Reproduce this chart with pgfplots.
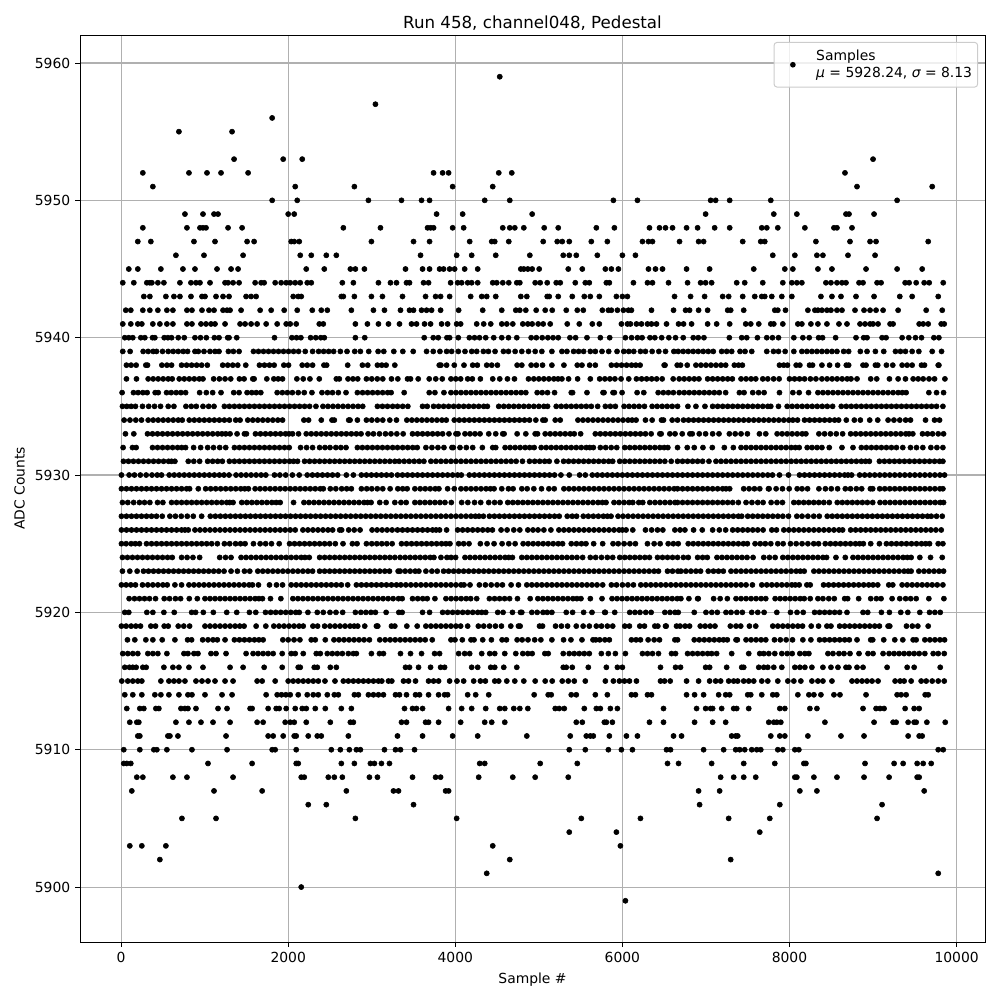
\documentclass[border=0pt]{standalone}
\usepackage{fontspec}
\setmainfont{DejaVu Sans}
\usepackage{pgfplots}
\pgfplotsset{compat=1.18}
\definecolor{gridc}{HTML}{B0B0B0}
\definecolor{legc}{HTML}{CCCCCC}
\pgfplotsset{dots/.style={only marks,mark=*,mark size=1.85pt,color=black,mark options={draw=black,fill=black}}}
\newcommand\R[2]{\gdef\pts{}\foreach\x in {#2}{\xdef\pts{\pts(\x,#1)}}\edef\tmp{\noexpand\addplot[dots,forget plot] coordinates{\pts};}\tmp}
\begin{document}
\begin{tikzpicture}
\useasboundingbox (0,0) rectangle (720pt,720pt);
\begin{axis}[
 at={(57.6pt,41.76pt)},anchor=south west,scale only axis,width=651.6pt,height=653.04pt,
 xmin=-492,xmax=10340,ymin=5896,ymax=5962.04,
 xtick={0,2000,...,10000},ytick={5900,5910,...,5960},
 scaled ticks=false,
 /pgf/number format/assume math mode=true,
 /pgf/number format/1000 sep={},
 grid=major,grid style={gridc,line width=0.8pt},
 axis line style={line width=0.6pt},
 tick style={black,line width=0.6pt},tick align=outside,major tick length=3.5pt,
 xtick pos=lower,ytick pos=left,
 tick label style={font=\fontsize{10}{12}\selectfont},
 label style={font=\fontsize{10}{12}\selectfont},
 xlabel={Sample \#},ylabel={ADC Counts},
 xlabel style={yshift=-0.5pt},ylabel style={yshift=0.3pt},
 title={Run 458, channel048, Pedestal},
 title style={font=\fontsize{12}{14}\selectfont,yshift=-6.3pt},
 legend style={at={(0.9923,0.9923)},anchor=north east,fill=white,fill opacity=0.8,text opacity=1,draw opacity=1,draw=legc,line width=0.7pt,rounded corners=2pt,font=\fontsize{10}{12}\selectfont,cells={align=left},inner xsep=2pt,inner ysep=3.5pt},
 legend image code/.code={\fill[black,opacity=1,draw=none] (11.5pt,0pt) circle (2.05pt);\path[draw=none] (0pt,0pt) -- (26.3pt,0pt);},
]
\addplot[dots] coordinates {(4532,5959)};
\addlegendentry{Samples\\{\itshape μ} = 5928.24, {\itshape σ} = 8.13}
\R{5957}{3044}
\R{5956}{1808}
\R{5955}{692,1328}
\R{5953}{1352,1940,2168,9000}
\R{5952}{260,812,1028,1196,1520,3740,3848,3920,4520,4676,8664}
\R{5951}{380,2084,2792,3968,4448,8808,9708}
\R{5950}{1808,2108,2960,3356,3596,3692,4352,4652,5892,6180,7056,7116,7284,7776,9288}
\R{5949}{764,980,1112,1160,2000,2072,3776,4088,4920,6996,7812,8088,8676,8712,9012}
\R{5948}{260,788,944,980,1016,1280,1448,2660,3104,3668,3704,3740,3968,4100,4568,4652,4712,4820,5064,5232,5688,5904,6324,6444,6516,6600,6768,6900,7104,7284,7668,7728,7860,8184,8532,8568,8748}
\R{5947}{200,356,872,1124,1508,1592,2036,2072,2132,2996,3500,3692,4172,4436,4472,4640,5052,5220,5280,5364,5628,5820,6240,6312,6360,6684,6912,6972,7440,7656,7704,8316,8724,8964,9036,9660}
\R{5946}{656,992,1460,2144,2276,2456,2576,3584,4016,4196,4484,4892,5292,5364,5448,5700,6000,6156,7800,8064,8328,8400,8700,9024}
\R{5945}{92,200,476,740,884,1148,1316,1400,2216,2432,2744,2804,2912,3404,3608,3692,3812,3860,3932,3992,4112,4268,4784,4820,4868,4920,5004,5352,5520,5796,5868,5952,6312,6396,6480,6768,7044,7572,7944,8040,8340,8508,8916,9288,9588}
\R{5944}{20,152,308,344,368,440,512,704,836,896,944,1064,1244,1280,1340,1412,1604,1676,1712,1844,1916,1976,2024,2084,2144,2228,2276,2648,2780,3080,3224,3296,3416,3452,3620,3680,3944,4028,4076,4148,4196,4268,4448,4496,4568,4640,4736,4772,4956,5016,5100,5208,5256,5436,5556,5604,5808,5844,6132,6300,6360,6552,6780,6936,6996,7068,7368,7464,7680,7920,8028,8088,8148,8436,8496,8568,8628,8676,8832,8880,9048,9096,9384,9432,9516,9612,9672,9840}
\R{5943}{272,344,536,632,704,836,968,1004,1136,1220,1292,1496,1556,1616,2060,2120,2156,2636,2660,2792,2996,3128,3368,3644,3764,3824,3932,4184,4316,4376,4484,4784,4856,5100,5124,5232,5400,5544,5616,5724,5928,6000,6060,6624,6816,6984,7200,7272,7440,7584,7668,7704,7788,7908,8028,8376,8508,8616,8796,9012,9320,9468,9780}
\R{5942}{56,116,260,344,440,548,620,788,848,968,1052,1112,1220,1268,1304,1436,1664,1796,1952,2108,2288,2396,2468,2756,3020,3152,3344,3452,3500,3596,3656,3716,3824,4040,4328,4556,4724,4772,4844,4968,5076,5160,5328,5460,5532,5760,5832,5868,5940,6012,6072,6108,6348,6612,6756,6804,6912,7020,7260,7296,7452,7824,7860,7952,8220,8304,8340,8388,8448,8496,8568,8628,8784,8892,8964,9036,9120,9300,9636,9828}
\R{5941}{20,116,200,248,380,464,548,620,788,848,956,1016,1076,1124,1244,1424,1484,1556,1628,1736,1868,1976,2024,2096,2372,2420,2804,2948,3080,3200,3332,3476,3536,3632,3704,3836,3908,4016,4064,4256,4340,4424,4556,4616,4688,4808,4868,4920,4992,5052,5136,5340,5484,5640,5724,5988,6060,6096,6168,6228,6300,6348,6408,6528,6672,6732,6828,7020,7128,7284,7476,7536,7632,7776,7812,7920,8100,8148,8256,8340,8448,8592,8688,8844,8904,8964,9000,9060,9204,9240,9552,9600,9660,9816,9852}
\R{5940}{44,92,140,236,284,376,404,516,560,604,684,756,884,950,1020,1116,1172,1276,1292,1384,1836,2044,2100,2152,2268,2330,2390,2432,2804,2916,3628,3736,3796,3900,3932,4036,4168,4230,4290,4364,4460,4556,4636,4736,4908,4970,5040,5108,5170,5232,5372,5440,5576,5736,5848,6036,6110,6180,6236,6330,6388,6470,6556,6636,6728,6848,6908,6976,7280,7428,7488,7616,7728,7796,7868,8052,8160,8236,8348,8396,8552,8796,8888,8928,9108,9156,9348,9428,9508,9580,9728,9788}
\R{5939}{20,108,264,324,384,424,496,564,624,684,744,796,884,924,992,1064,1124,1172,1284,1344,1412,1584,1644,1704,1764,1824,1884,1944,2004,2064,2124,2204,2292,2364,2424,2484,2544,2624,2704,2796,2864,2964,3076,3144,3264,3372,3496,3656,3736,3816,3896,3956,4036,4116,4196,4256,4336,4396,4476,4576,4636,4716,4796,4876,4956,5036,5156,5276,5336,5416,5476,5536,5616,5676,5756,5836,5936,6016,6076,6136,6216,6276,6356,6436,6516,6616,6668,6728,6788,6848,6908,6968,7028,7088,7188,7248,7308,7408,7468,7548,7728,7808,7868,7948,8052,8148,8208,8268,8328,8388,8448,8508,8568,8648,8708,8848,8928,9028,9128,9268,9328,9388,9468,9548,9708,9820}
\R{5938}{64,120,180,296,316,488,548,604,724,784,844,904,964,1032,1216,1276,1336,1396,1492,1656,1716,1776,1832,1948,2004,2168,2228,2292,2428,2460,2712,2888,2952,3068,3120,3172,3276,3808,3828,3896,3988,4104,4208,4264,4376,4436,4504,4740,4796,4908,4970,5044,5156,5300,5460,5516,5608,5676,5868,5930,5990,6050,6110,6160,6212,6500,6510,6656,6696,6776,6880,6940,7000,7060,7120,7180,7236,7340,7390,7436,7880,7930,7976,8080,8124,8240,8276,8388,8480,8576,8680,8708,8880,8916,9028,9056,9160,9236,9348,9408,9468,9580,9616,9780,9788}
\R{5937}{64,184,324,384,444,504,564,612,696,756,816,876,936,980,1108,1176,1244,1312,1416,1472,1576,1592,1744,1828,1880,1932,2104,2180,2260,2372,2576,2612,2716,2775,2832,2936,3000,3066,3132,3236,3312,3428,3464,3556,3688,3766,3844,3948,4006,4064,4148,4204,4300,4448,4532,4624,4708,4876,4940,5000,5060,5120,5180,5230,5276,5356,5464,5616,5728,5790,5850,5910,5984,6076,6168,6230,6290,6350,6410,6476,6608,6680,6740,6800,6860,6916,7020,7080,7140,7200,7260,7316,7420,7480,7540,7596,7680,7740,7810,7876,8000,8060,8120,8180,8250,8316,8388,8450,8510,8570,8630,8690,8736,8808,8972,9044,9196,9300,9388,9480,9540,9600,9670,9736,9860}
\R{5936}{12,148,204,260,312,408,444,544,600,660,716,772,940,1020,1096,1196,1348,1412,1508,1564,1618,1672,1868,1930,1990,2050,2120,2192,2284,2404,2470,2530,2600,2692,2828,2890,2950,3010,3070,3130,3190,3232,3388,3688,3756,3864,3948,4008,4068,4128,4188,4248,4308,4368,4428,4488,4548,4608,4668,4728,4788,4844,4980,5040,5104,5188,5388,5404,5576,5768,5780,5888,5904,5996,6176,6256,6428,6490,6550,6610,6680,6740,6800,6860,6920,6980,7040,7100,7160,7236,7400,7456,7560,7630,7696,7880,8040,8116,8228,8340,8400,8460,8520,8580,8640,8700,8760,8820,8880,8940,9000,9060,9120,9180,9240,9300,9350,9396,9668,9760,9844}
\R{5935}{16,68,120,172,256,330,400,472,564,632,776,840,900,980,1048,1112,1236,1296,1356,1416,1476,1536,1596,1656,1716,1776,1836,1896,1956,2016,2076,2136,2196,2256,2332,2416,2476,2536,2596,2656,2716,2776,2836,2892,3068,3128,3188,3250,3308,3370,3432,3608,3664,3740,3800,3860,3920,3980,4040,4100,4160,4220,4280,4340,4384,4520,4580,4640,4700,4760,4820,4880,4940,5000,5060,5104,5208,5268,5328,5388,5448,5508,5568,5628,5704,5796,5856,5916,6020,6080,6140,6200,6264,6356,6416,6476,6536,6596,6660,6784,6880,6988,7080,7140,7200,7260,7320,7380,7440,7500,7560,7620,7680,7740,7776,7868,7972,8032,8092,8152,8212,8272,8332,8392,8452,8516,8620,8680,8740,8800,8860,8920,8980,9040,9100,9160,9220,9280,9340,9400,9460,9520,9580,9640,9700,9760,9836}
\R{5934}{36,106,176,244,324,384,444,504,564,624,684,732,816,876,936,996,1056,1116,1176,1236,1296,1372,1424,1516,1576,1636,1696,1756,1816,1876,1932,2188,2244,2396,2524,2552,2724,2740,2828,2936,3000,3066,3132,3216,3296,3420,3480,3540,3600,3660,3720,3780,3840,3892,3988,4048,4108,4168,4228,4288,4348,4408,4468,4528,4588,4648,4708,4768,4828,4888,4964,5048,5076,5196,5256,5468,5528,5588,5648,5708,5768,5828,5888,5948,6008,6068,6116,6164,6276,6356,6468,6492,6596,6660,6732,6792,6852,6912,6972,7032,7092,7152,7212,7272,7332,7392,7452,7512,7572,7632,7692,7752,7812,7872,7932,7992,8040,8096,8180,8240,8300,8360,8420,8480,8540,8588,8680,8776,8848,8960,9056,9180,9250,9320,9390,9448,9628,9736,9796}
\R{5933}{52,152,316,376,436,496,556,616,676,736,796,856,916,976,1036,1096,1156,1206,1252,1304,1388,1476,1500,1608,1668,1728,1788,1848,1908,1968,2010,2052,2124,2216,2276,2336,2396,2456,2516,2576,2636,2696,2756,2816,2872,2956,3020,3092,3164,3230,3300,3376,3488,3548,3608,3668,3728,3788,3848,3924,4008,4032,4116,4176,4236,4296,4400,4484,4568,4584,4740,4844,4956,4984,5076,5136,5196,5256,5316,5376,5424,5500,5676,5736,5796,5856,5916,5976,6036,6096,6156,6216,6276,6344,6448,6464,6568,6630,6716,6808,6836,6920,6996,7080,7156,7280,7350,7420,7496,7640,7716,7852,7912,7972,8032,8092,8152,8196,8352,8420,8490,8560,8636,8732,8792,8852,8912,8972,9032,9092,9152,9212,9272,9332,9392,9430,9476,9592,9652,9712,9780,9844}
\R{5932}{24,136,180,376,436,496,556,616,676,726,772,868,952,1036,1106,1180,1252,1356,1416,1476,1536,1596,1656,1716,1776,1836,1896,1956,2012,2148,2220,2292,2376,2440,2500,2570,2630,2692,2828,2888,2948,3008,3068,3128,3188,3250,3308,3370,3430,3490,3544,3648,3720,3792,3864,3960,3976,4056,4132,4208,4324,4448,4484,4596,4656,4716,4776,4836,4890,4944,5028,5088,5148,5208,5268,5328,5388,5448,5508,5568,5610,5652,5736,5800,5866,5932,6028,6088,6148,6208,6268,6328,6388,6448,6500,6544,6660,6776,6860,6964,7076,7220,7328,7420,7480,7540,7600,7660,7720,7780,7840,7900,7960,8020,8070,8116,8212,8270,8330,8388,8476,8628,8760,8860,8920,8980,9040,9100,9160,9220,9280,9356,9448,9520,9596,9692,9764,9836}
\R{5931}{28,88,148,208,268,328,388,448,508,568,604,644,804,870,940,1036,1096,1156,1212,1296,1356,1416,1476,1536,1596,1656,1716,1776,1836,1896,1956,2016,2064,2112,2196,2256,2316,2376,2436,2496,2556,2616,2676,2736,2796,2856,2916,2976,3036,3096,3156,3216,3276,3328,3388,3448,3508,3568,3624,3708,3768,3828,3888,3948,4008,4068,4128,4188,4248,4308,4368,4428,4488,4548,4608,4668,4728,4804,4888,4950,5010,5070,5124,5216,5296,5356,5416,5476,5536,5596,5656,5716,5776,5836,5884,5968,6028,6088,6148,6208,6268,6328,6388,6448,6508,6584,6660,6720,6780,6840,6900,6960,7036,7120,7180,7240,7300,7360,7420,7480,7540,7600,7660,7720,7780,7840,7900,7960,8020,8080,8140,8200,8260,8320,8380,8440,8500,8560,8620,8680,8740,8800,8860,8910,8956,9076,9136,9196,9256,9316,9376,9436,9496,9556,9616,9676,9736,9796,9836}
\R{5930}{4,96,160,230,300,370,432,484,576,636,696,756,816,876,936,996,1056,1116,1176,1232,1292,1376,1436,1496,1556,1616,1676,1732,1836,1900,1970,2050,2132,2228,2290,2350,2410,2470,2530,2592,2696,2780,2876,2936,2996,3056,3116,3176,3236,3308,3368,3428,3488,3548,3608,3668,3728,3788,3848,3908,3968,4028,4072,4168,4228,4288,4348,4408,4468,4528,4588,4648,4708,4768,4828,4888,4948,5008,5068,5128,5188,5264,5364,5488,5556,5640,5700,5760,5820,5880,5940,6000,6060,6120,6180,6240,6300,6360,6420,6480,6540,6600,6660,6720,6780,6840,6900,6960,7020,7080,7140,7200,7260,7320,7380,7440,7500,7560,7620,7680,7740,7796,7880,7988,8120,8180,8240,8300,8360,8420,8480,8540,8600,8660,8700,8744,8840,8900,8960,9020,9080,9140,9200,9260,9320,9380,9440,9500,9560,9620,9680,9740,9800,9856}
\R{5929}{4,64,124,184,244,304,364,424,484,544,604,664,724,784,820,924,1012,1072,1132,1192,1252,1312,1372,1432,1480,1524,1604,1664,1724,1784,1844,1904,1964,2024,2084,2144,2204,2264,2324,2384,2420,2504,2570,2640,2700,2756,2876,2940,3000,3066,3132,3220,3312,3370,3424,3516,3580,3640,3700,3760,3804,3908,3988,4068,4128,4188,4248,4308,4368,4420,4464,4556,4636,4692,4796,4860,4940,5032,5120,5184,5300,5360,5420,5480,5540,5600,5660,5720,5780,5840,5900,5960,6020,6080,6140,6200,6260,6320,6380,6440,6500,6560,6620,6660,6720,6780,6840,6900,6960,7020,7080,7140,7200,7240,7284,7452,7516,7580,7644,7748,7756,7840,7916,7996,8092,8150,8216,8352,8430,8500,8576,8668,8730,8800,8864,8968,8996,9080,9140,9200,9260,9320,9380,9440,9500,9560,9620,9680,9740,9800,9836}
\R{5928}{16,80,150,220,280,344,436,500,604,664,724,784,844,904,964,1024,1084,1144,1204,1264,1300,1340,1444,1504,1564,1624,1684,1744,1804,1856,1904,2064,2188,2248,2308,2368,2428,2488,2548,2608,2668,2728,2788,2848,2908,2950,2992,3096,3172,3276,3350,3412,3516,3576,3636,3696,3756,3816,3876,3952,4076,4150,4230,4304,4400,4470,4536,4628,4688,4748,4808,4868,4928,4988,5048,5108,5168,5228,5288,5348,5408,5468,5528,5588,5648,5708,5760,5804,5900,5960,6020,6080,6124,6196,6244,6328,6390,6450,6510,6570,6630,6660,6720,6780,6840,6900,6960,7020,7080,7140,7200,7260,7320,7388,7480,7550,7620,7684,7780,7850,7916,8052,8110,8170,8230,8290,8350,8410,8476,8572,8632,8692,8752,8812,8872,8932,8996,9084,9144,9204,9264,9324,9384,9444,9504,9564,9624,9684,9744,9804,9844}
\R{5927}{4,64,124,184,244,304,364,424,492,584,650,720,792,864,964,1068,1128,1188,1248,1308,1368,1428,1488,1548,1608,1668,1728,1788,1848,1908,1968,2028,2088,2148,2208,2268,2328,2388,2448,2508,2568,2628,2688,2748,2808,2868,2928,2988,3048,3108,3168,3228,3288,3348,3408,3468,3528,3588,3648,3708,3768,3828,3888,3948,4008,4068,4128,4188,4240,4284,4336,4408,4468,4528,4588,4648,4708,4768,4828,4888,4948,5008,5068,5128,5188,5244,5340,5400,5452,5532,5592,5652,5712,5772,5820,5864,5948,6008,6068,6128,6188,6248,6308,6368,6428,6488,6548,6608,6668,6728,6788,6848,6908,6968,7028,7088,7148,7208,7268,7328,7388,7428,7500,7560,7620,7680,7740,7800,7860,7920,7988,8088,8150,8220,8290,8356,8452,8512,8572,8632,8692,8752,8812,8872,8932,8992,9052,9112,9172,9232,9292,9352,9412,9472,9532,9592,9652,9696,9760,9828}
\R{5926}{4,64,124,184,244,304,364,424,484,544,604,664,724,764,804,884,944,1004,1064,1124,1184,1244,1304,1364,1424,1484,1544,1604,1664,1724,1784,1844,1904,1964,2024,2084,2176,2236,2296,2356,2416,2476,2532,2616,2640,2724,2790,2860,3004,3064,3124,3184,3244,3308,3368,3428,3488,3548,3608,3668,3728,3770,3812,3896,4028,4088,4148,4208,4268,4328,4388,4444,4548,4620,4700,4772,4868,4930,4990,5060,5144,5240,5300,5360,5420,5480,5540,5600,5660,5720,5780,5840,5900,5960,6000,6044,6124,6276,6350,6420,6484,6628,6690,6748,6852,6956,7080,7160,7236,7320,7380,7440,7500,7560,7620,7684,7788,7844,7932,7992,8052,8112,8172,8232,8292,8352,8412,8472,8532,8592,8636,8732,8792,8852,8912,8972,9032,9092,9152,9212,9272,9332,9392,9452,9512,9572,9632,9692,9752,9816}
\R{5925}{4,60,120,170,220,304,364,424,484,544,604,664,724,784,844,904,964,1024,1084,1152,1236,1300,1370,1430,1484,1584,1664,1730,1800,1892,2016,2076,2136,2196,2256,2316,2376,2436,2496,2564,2656,2768,2824,2936,3000,3060,3120,3180,3244,3356,3416,3476,3536,3596,3656,3716,3776,3836,3888,3936,4040,4100,4164,4300,4380,4464,4560,4640,4716,4812,4872,4932,4992,5052,5112,5172,5232,5284,5388,5450,5510,5564,5656,5764,5888,5950,6020,6090,6156,6300,6380,6452,6548,6610,6668,6788,6848,6908,6968,7028,7088,7148,7208,7268,7328,7388,7448,7496,7588,7650,7710,7776,7860,7924,8012,8080,8150,8220,8290,8348,8428,8490,8550,8610,8670,8730,8790,8840,8884,8972,9076,9160,9220,9280,9340,9400,9460,9520,9580,9630,9676,9780,9836}
\R{5924}{16,76,136,196,256,316,376,436,496,556,612,724,790,860,940,1180,1250,1316,1436,1496,1556,1616,1676,1736,1796,1856,1916,1976,2036,2096,2156,2200,2252,2376,2436,2496,2556,2616,2676,2736,2796,2856,2916,2976,3036,3096,3156,3216,3276,3340,3400,3460,3520,3580,3640,3700,3744,3828,3900,3950,4004,4116,4176,4236,4296,4356,4416,4476,4536,4596,4640,4684,4796,4856,4916,4976,5036,5096,5156,5216,5276,5336,5396,5456,5524,5616,5680,5750,5820,5884,5968,6028,6088,6148,6208,6268,6324,6420,6480,6540,6600,6660,6730,6788,6900,6960,7016,7132,7192,7252,7312,7372,7432,7492,7564,7692,7760,7828,7920,7980,8040,8100,8160,8220,8280,8340,8400,8444,8556,8668,8760,8820,8880,8940,9000,9060,9120,9180,9240,9300,9360,9410,9456,9560,9688,9828}
\R{5923}{16,104,192,268,328,388,448,508,568,628,688,748,808,868,928,988,1048,1108,1168,1232,1316,1392,1476,1540,1636,1696,1756,1816,1876,1936,1996,2056,2116,2176,2236,2292,2376,2436,2496,2556,2616,2676,2736,2796,2856,2916,2976,3036,3096,3156,3212,3316,3340,3400,3460,3520,3564,3648,3720,3784,3860,3920,3980,4040,4100,4160,4220,4280,4340,4400,4460,4520,4580,4640,4700,4760,4820,4880,4940,5000,5060,5120,5180,5240,5300,5360,5420,5480,5540,5600,5660,5720,5780,5840,5900,5960,6020,6080,6140,6200,6260,6320,6380,6432,6540,6600,6664,6700,6760,6820,6880,6936,7028,7090,7150,7208,7300,7360,7420,7480,7540,7600,7660,7720,7780,7840,7900,7960,8020,8080,8130,8176,8292,8352,8412,8472,8532,8592,8652,8712,8772,8832,8892,8952,9012,9072,9132,9192,9252,9312,9372,9420,9456,9548,9610,9670,9730,9790,9844}
\R{5922}{4,60,116,172,256,320,380,440,500,552,644,724,812,872,932,992,1052,1112,1172,1232,1292,1352,1412,1472,1532,1572,1644,1776,1860,1932,2036,2096,2156,2216,2276,2336,2396,2456,2516,2576,2636,2712,2816,2876,2936,2996,3056,3116,3176,3236,3296,3348,3408,3468,3528,3588,3648,3708,3768,3828,3888,3948,4008,4068,4104,4176,4288,4360,4430,4500,4564,4668,4756,4856,4916,4976,5036,5096,5156,5216,5276,5336,5396,5456,5516,5576,5636,5696,5764,5868,5930,6000,6066,6132,6220,6280,6340,6400,6460,6520,6580,6640,6700,6760,6820,6880,6940,7000,7060,7120,7180,7240,7300,7360,7420,7480,7556,7668,7728,7788,7848,7908,7968,8028,8070,8116,8208,8248,8408,8468,8528,8588,8648,8708,8768,8828,8888,8948,9000,9056,9188,9236,9348,9408,9468,9528,9588,9648,9708,9768,9836}
\R{5921}{96,160,220,280,340,412,516,580,650,712,816,912,1004,1064,1124,1184,1244,1304,1364,1424,1484,1544,1604,1650,1692,1788,1912,2056,2116,2176,2236,2296,2356,2416,2476,2536,2596,2656,2716,2776,2836,2896,2956,3016,3076,3136,3196,3256,3320,3364,3488,3550,3610,3664,3756,3888,3950,4010,4070,4130,4184,4256,4408,4470,4530,4590,4650,4744,4896,4988,5048,5108,5168,5228,5288,5348,5408,5456,5504,5616,5756,5876,5936,5996,6056,6116,6176,6236,6296,6356,6416,6476,6536,6596,6656,6700,6796,6900,6908,7092,7170,7256,7360,7420,7480,7540,7600,7660,7716,7828,7888,7948,8008,8068,8128,8176,8248,8340,8400,8470,8536,8660,8696,8828,8972,9040,9096,9228,9320,9390,9450,9516,9668,9848}
\R{5920}{44,92,308,380,512,636,844,892,984,1104,1264,1384,1536,1612,1728,1790,1850,1910,1970,2030,2090,2132,2236,2348,2420,2500,2572,2652,2804,2870,2930,2990,3044,3172,3324,3364,3608,3692,3848,3908,3968,4028,4088,4148,4208,4268,4316,4364,4508,4572,4684,4780,4796,4916,4980,5050,5100,5156,5328,5404,5536,5636,5788,5796,5908,6088,6150,6210,6280,6344,6508,6570,6630,6668,6860,7000,7070,7136,7240,7300,7370,7436,7548,7620,7696,7848,8012,8090,8164,8300,8360,8420,8480,8540,8600,8688,8880,8936,9100,9196,9332,9416,9560,9676,9740,9804}
\R{5919}{4,60,120,176,232,356,412,516,564,684,750,820,1004,1064,1124,1184,1244,1304,1364,1420,1472,1616,1732,1828,1890,1950,2010,2070,2130,2180,2296,2352,2436,2500,2560,2620,2680,2740,2790,2832,2916,3056,3072,3236,3276,3420,3544,3648,3708,3768,3828,3888,3948,4008,4064,4148,4276,4340,4410,4480,4552,4664,4756,4776,5008,5044,5200,5270,5344,5448,5530,5604,5688,5750,5820,5884,6028,6084,6208,6264,6388,6424,6516,6524,6648,6690,6750,6804,6932,6990,7050,7108,7292,7360,7416,7520,7596,7800,7860,7920,7980,8040,8100,8156,8260,8348,8448,8496,8600,8660,8720,8780,8840,8900,8960,9020,9076,9180,9200,9400,9470,9536,9660}
\R{5918}{76,164,296,380,492,644,796,844,976,1040,1100,1152,1244,1356,1416,1476,1536,1596,1650,1700,1936,2000,2070,2140,2276,2324,2444,2548,2608,2668,2728,2788,2848,2908,2972,3096,3160,3220,3280,3340,3400,3460,3520,3580,3640,3724,3948,3996,4084,4188,4224,4328,4432,4560,4612,4740,4800,4870,4950,5024,5156,5296,5384,5516,5648,5680,5728,5790,5844,6108,6164,6216,6308,6380,6444,6628,6660,6860,6920,6980,7040,7100,7160,7210,7256,7360,7376,7480,7540,7600,7660,7716,7820,7890,7960,8036,8160,8256,8360,8420,8480,8540,8600,8660,8716,8808,8972,8996,9128,9260,9356,9480,9516,9620,9680,9740,9800,9856}
\R{5917}{20,80,140,200,320,380,440,548,752,800,872,920,1076,1136,1256,1496,1580,1640,1700,1760,1820,1928,2036,2084,2180,2336,2384,2468,2528,2588,2648,2720,2780,2816,2996,3092,3140,3344,3464,3596,3752,3812,4040,4112,4172,4316,4412,4472,4592,4724,4808,4868,4920,5072,5112,5292,5364,5424,5484,5544,5604,5748,5832,5916,6036,6240,6300,6360,6432,6588,6636,6780,6840,6900,6960,7020,7068,7128,7308,7512,7644,7692,7752,7824,7908,7972,8032,8124,8184,8232,8460,8520,8592,8652,8724,8832,8940,9000,9120,9192,9252,9312,9372,9432,9492,9552,9620,9720,9780,9852}
\R{5916}{44,100,140,180,260,300,512,620,692,812,980,1304,1460,1712,1928,2120,2144,2312,2348,2504,2576,3404,3452,3560,3704,3824,3872,4196,4268,4424,4472,4580,4736,5292,5328,5400,5592,5808,5940,6000,6456,6636,6696,6996,7044,7248,7428,7452,7632,7692,7740,7812,7908,8064,8124,8184,8268,8400,8496,8580,8676,8712,8808,8880,9168,9408,9492,9804}
\R{5915}{8,80,140,200,248,476,572,632,692,764,896,968,1040,1124,1244,1340,1628,1688,1844,2000,2060,2120,2180,2240,2300,2360,2440,2560,2660,2720,2780,2840,2900,2960,3020,3080,3120,3200,3240,3380,3440,3524,3680,3740,3800,3932,4020,4100,4220,4300,4360,4472,4520,4616,4712,4820,4956,5076,5160,5280,5352,5424,5556,5796,5892,5964,6024,6084,6168,6456,6504,6572,6768,6912,7044,7116,7176,7272,7332,7380,7452,7512,7572,7668,7740,7860,7980,8052,8136,8268,8340,8400,8508,8748,8808,8868,8928,8988,9060,9264,9324,9372,9456,9576,9636,9708,9780,9852}
\R{5914}{44,140,248,404,476,572,692,800,848,1004,1208,1328,1736,1868,1920,1972,2024,2120,2228,2300,2360,2468,2552,2600,2792,2840,2960,3020,3080,3140,3284,3332,3416,3524,3572,3680,3800,3872,3908,4148,4244,4400,4944,5112,5148,5388,5448,5676,5820,6108,6156,6300,6348,6768,6864,6972,7152,7236,7284,7500,7536,7668,7800,7848,8100,8232,8292,8376,8532,8604,8916,9288,9336,9396,9624,9660}
\R{5913}{68,224,272,416,452,716,764,800,896,1160,1268,1544,1568,1760,1856,1892,1976,2084,2168,2216,2324,2444,2636,2756,3392,3488,3536,3608,3920,4076,4196,4364,4532,4592,4700,4772,4868,5196,5244,5304,5544,5688,5736,5856,5940,6492,6888,6996,7056,7080,7188,7332,7368,7512,7884,7944,8244,8328,8880,9036,9084,9132,9384,9492,9552}
\R{5912}{104,188,212,656,812,956,1100,1304,1628,1700,1964,2024,2072,2216,2504,2744,2780,3356,3416,3644,3680,3800,4064,4352,4436,4592,5448,5520,5784,5808,5880,6324,6492,6864,7080,7236,7752,7812,7848,7896,8424,9012,9240,9276,9420,9492,9516,9644,9864}
\R{5911}{200,224,560,584,680,1256,1760,1820,1940,2072,2096,2240,2348,2396,2720,3308,3608,3968,4268,4856,5376,5568,5616,5652,5844,6048,6180,6612,6708,7308,7356,7380,7776,7884,7944,8220,8616,8892,9420,9552,9588}
\R{5910}{32,224,392,428,548,848,1268,1808,1844,2096,2516,2624,2732,2816,2864,3152,3284,3344,3512,5364,5556,5832,5988,6120,6528,6576,6972,7212,7356,7404,7464,7548,7608,7656,7860,7920,8064,8112,9780,9840}
\R{5909}{32,68,116,1040,1568,2096,2120,2636,2792,2984,3032,3116,3212,4292,4352,5016,5460,6540,6672,7068,7452,7824,8172,8196,8904,9252,9360,9528,9600,9696}
\R{5908}{188,260,620,788,1340,2156,2192,2480,2552,2648,2972,3068,3488,3764,3824,4280,4688,4956,5352,7176,7332,7452,7596,8064,8088,8292,8568,8892,9192,9528,9552}
\R{5907}{128,1112,1688,2696,3260,3320,3884,3920,6912,7164,8124,8328,9612}
\R{5906}{2240,2456,3500,6924,7884,9108}
\R{5905}{728,1136,2804,4016,5508,6216,7272,7764,9048}
\R{5904}{5364,5928,7644}
\R{5903}{104,248,536,4448,5976}
\R{5902}{464,4652,7296}
\R{5901}{4376,9780}
\R{5900}{2156}
\R{5899}{6036}
\end{axis}
\end{tikzpicture}
\end{document}
